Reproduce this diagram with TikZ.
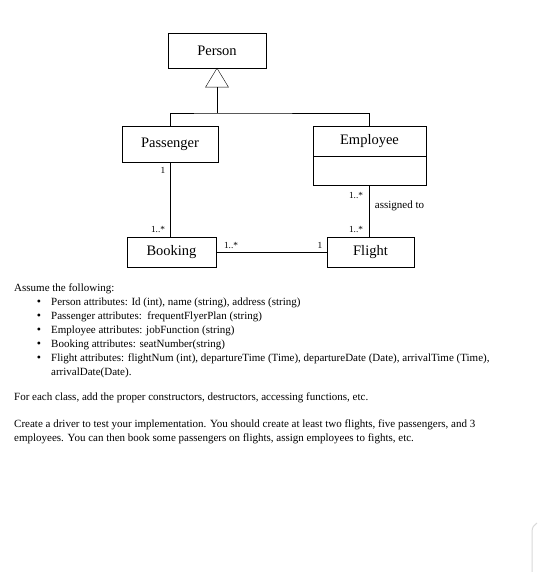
\documentclass[tikz,border=0pt]{standalone}
\usepackage{fontspec}
\setmainfont{Liberation Serif}
\begin{document}
\begin{tikzpicture}[x=1pt,y=-1pt,
    umlclass/.style={draw,thin,rectangle,inner sep=0pt,font=\fontsize{14.5}{16}\selectfont},
    mult/.style={inner sep=0pt,font=\fontsize{9.3}{10}\selectfont},
    bodyline/.style={anchor=base west,inner sep=0pt,font=\fontsize{11}{13}\selectfont},
    bulletmark/.style={anchor=base,inner sep=0pt,font=\fontsize{12}{13}\selectfont}]
    \useasboundingbox[fill=white] (0,0) rectangle (540,572);
    % classes
    \node[umlclass, minimum width=98pt, minimum height=35pt] (person) at (217,50.5){Person};
    \node[umlclass, minimum width=96pt, minimum height=36pt] (passenger) at (170,144){Passenger};
    \node[umlclass, minimum width=113pt, minimum height=30pt] (employee) at (369.5,141){Employee};
    \node[umlclass, minimum width=113pt, minimum height=29pt, anchor=north] (employeeattr) at (employee.south){};
    \node[umlclass, minimum width=89pt, minimum height=30pt] (booking) at (171.5,252){Booking};
    \node[umlclass, minimum width=87pt, minimum height=30pt] (flight) at (370.5,252){Flight};
    % generalization
    \coordinate (split) at (217,113);
    \draw[thin] (person.south) -- ++(-11.5,19) -- ++(23,0) -- cycle;
    \draw[thin] ([yshift=-19pt]person.south) -- (split);
    \draw[thin] (passenger.north) |- (split) -| (employee.north);
    % associations
    \draw[thin] (passenger.south) -- (passenger.south |- booking.north);
    \draw[thin] (employeeattr.south) -- (employeeattr.south |- flight.north);
    \draw[thin] (booking.east) -- (flight.west);
    \node[mult] (m1) at (163,170){1};
    \node[mult] (m2) at (158,229){1..*};
    \node[mult] (m3) at (231,245){1..*};
    \node[mult] (m4) at (320,245){1};
    \node[mult] (m5) at (356,195){1..*};
    \node[mult] (m6) at (356,229){1..*};
    \node[mult, font=\fontsize{11}{12}\selectfont] (assigned) at (399.5,206){assigned to};
    % text
    \node[bodyline] (assume) at (14,291){Assume the following:};
    \foreach \yy in {305,319,333,347,361}
        \node[bulletmark] at (39,\yy){•};
    \node[bodyline] (attrperson) at (51,305){Person attributes: Id (int), name (string), address (string)};
    \node[bodyline] (attrpassenger) at (51,319){Passenger attributes:\ \ frequentFlyerPlan (string)};
    \node[bodyline] (attremployee) at (51,333){Employee attributes: jobFunction (string)};
    \node[bodyline] (attrbooking) at (51,347){Booking attributes: seatNumber(string)};
    \node[bodyline] (attrflight) at (51,361){Flight attributes: flightNum (int), departureTime (Time), departureDate (Date), arrivalTime (Time),};
    \node[bodyline] (attrflightb) at (51,375){arrivalDate(Date).};
    \node[bodyline] (foreach) at (14,400){For each class, add the proper constructors, destructors, accessing functions, etc.};
    \node[bodyline] (driver) at (14,427){Create a driver to test your implementation. You should create at least two flights, five passengers, and 3};
    \node[bodyline] (driverb) at (14,441){employees. You can then book some passengers on flights, assign employees to fights, etc.};
    % page edge
    \draw[black!15, line width=1pt] (532,572) -- (532,532) .. controls (532,527) and (534,525) .. (537,523);
\end{tikzpicture}
\end{document}
